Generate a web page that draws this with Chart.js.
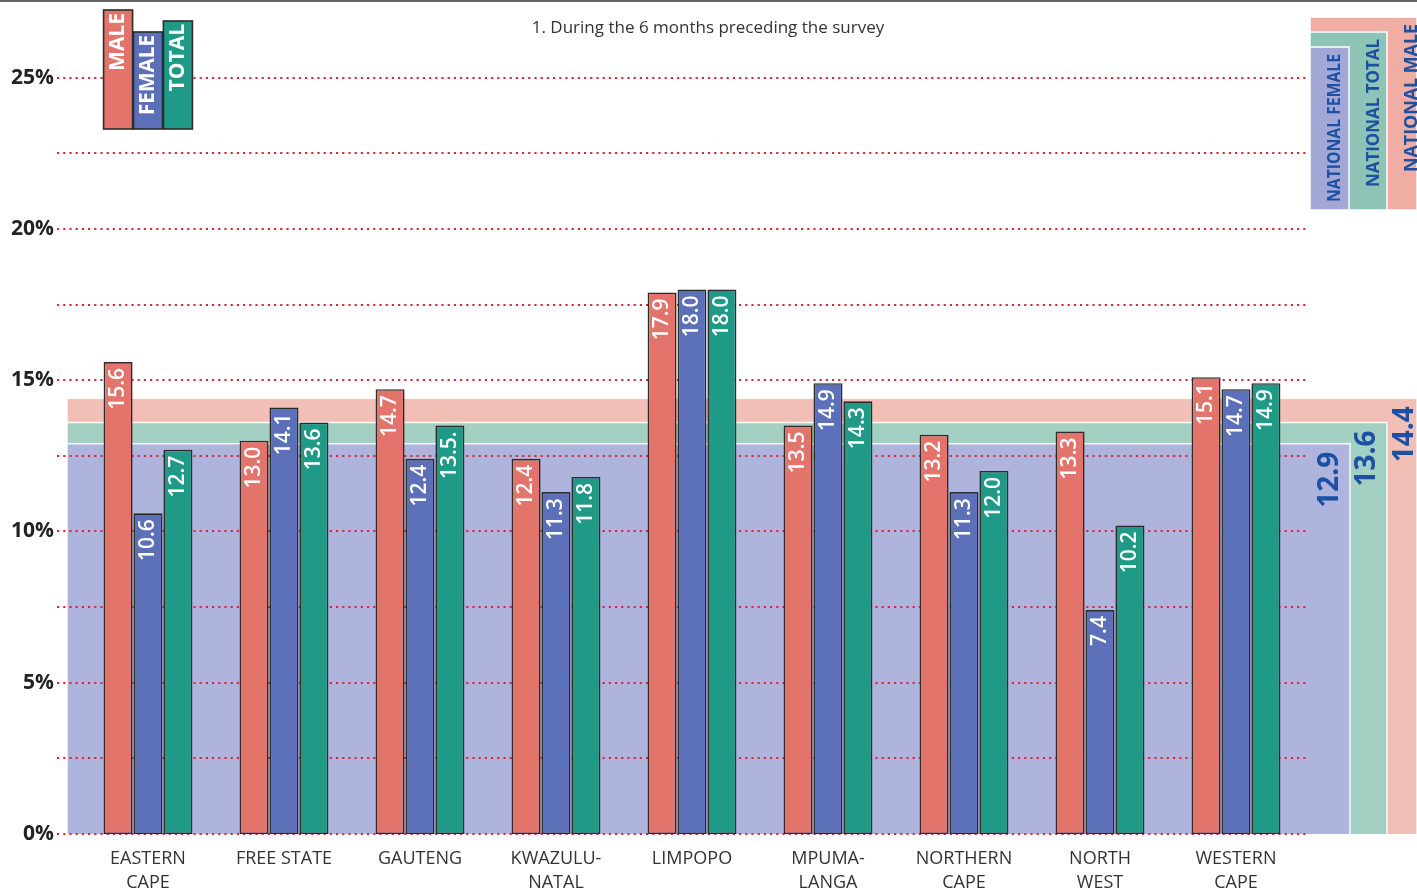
<!DOCTYPE html>
<html>
<head>
<meta charset="utf-8">
<style>
  html, body { margin: 0; padding: 0; background: #fff; }
  #wrap { width: 1417px; height: 890px; position: relative; }
</style>
<script src="https://cdn.jsdelivr.net/npm/chart.js@4.4.1/dist/chart.umd.min.js"></script>
</head>
<body>
<div id="wrap"><canvas id="chart"></canvas></div>
<script>
'use strict';

/* ── Data ─────────────────────────────────────────────────────── */
const PROVINCES = [
  ['EASTERN', 'CAPE'], ['FREE STATE'], ['GAUTENG'], ['KWAZULU-', 'NATAL'], ['LIMPOPO'],
  ['MPUMA-', 'LANGA'], ['NORTHERN', 'CAPE'], ['NORTH', 'WEST'], ['WESTERN', 'CAPE'],
];
const SERIES = ['MALE', 'FEMALE', 'TOTAL'];
const MALE   = [15.6, 13.0, 14.7, 12.4, 17.9, 13.5, 13.2, 13.3, 15.1];
const FEMALE = [10.6, 14.1, 12.4, 11.3, 18.0, 14.9, 11.3, 7.4, 14.7];
const TOTAL  = [12.7, 13.6, 13.5, 11.8, 18.0, 14.3, 12.0, 10.2, 14.9];
const TOTAL_TEXT = ['12.7', '13.6', '13.5.', '11.8', '18.0', '14.3', '12.0', '10.2', '14.9'];

const NATIONAL_LABELS = ['NATIONAL MALE', 'NATIONAL TOTAL', 'NATIONAL FEMALE'];
const NATIONAL = [14.4, 13.6, 12.9];

const Y_TICKS = [0, 5, 10, 15, 20, 25];
const Y_GRID = [0, 2.5, 5, 7.5, 10, 12.5, 15, 17.5, 20, 22.5, 25];
const NOTE = '1. During the 6 months preceding the survey';

/* ── Styling ──────────────────────────────────────────────────── */
const C = {
  male: '#E2746C', female: '#5B70B9', total: '#1E9A86',
  bandMale: '#F2BFB7', bandTotal: '#A4CFC3', bandFemale: '#AEB4DB',
  keyMale: '#EFADA3', keyTotal: '#8DC4B5', keyFemale: '#A3A7D6',
  blue: '#1B50A3', grid: '#D9283C', border: '#2b2b2b', ink: '#222',
};
const FONT = "'Open Sans', 'Noto Sans', sans-serif";

// geometry of the national bands (right edges) and their number labels
const BAND_LEFT = 67;
const BAND_RIGHT = [1417, 1387, 1350];
const BAND_TEXT_X = [1405, 1367, 1330];

function vtext(ctx, txt, x, yTop, font, color, maxW) {
  ctx.save();
  ctx.translate(x, yTop);
  ctx.rotate(-Math.PI / 2);
  ctx.font = font;
  ctx.fillStyle = color;
  ctx.textAlign = 'right';
  ctx.textBaseline = 'middle';
  if (maxW) ctx.fillText(txt, 0, 0, maxW); else ctx.fillText(txt, 0, 0);
  ctx.restore();
}

const decor = {
  id: 'decor',
  beforeDatasetsDraw(chart) {
    const { ctx } = chart;
    const y = chart.scales.y;
    const base = y.getPixelForValue(0);
    ctx.save();
    // national bands, widest first
    const fills = [C.bandMale, C.bandTotal, C.bandFemale];
    NATIONAL.forEach((v, i) => {
      const top = y.getPixelForValue(v);
      ctx.fillStyle = fills[i];
      ctx.fillRect(BAND_LEFT, top, BAND_RIGHT[i] - BAND_LEFT, base - top);
      ctx.strokeStyle = 'rgba(255,255,255,0.9)';
      ctx.lineWidth = 1.5;
      ctx.strokeRect(BAND_LEFT, top, BAND_RIGHT[i] - BAND_LEFT, base - top + 3);
    });
    // dotted grid
    ctx.strokeStyle = C.grid;
    ctx.lineWidth = 2.2;
    ctx.setLineDash([2.2, 4]);
    Y_GRID.forEach(v => {
      const py = Math.round(y.getPixelForValue(v));
      ctx.beginPath();
      ctx.moveTo(57, py);
      ctx.lineTo(1307, py);
      ctx.stroke();
    });
    ctx.setLineDash([]);
    // y tick labels
    ctx.font = `bold 21px ${FONT}`;
    ctx.fillStyle = C.ink;
    ctx.textAlign = 'right';
    ctx.textBaseline = 'middle';
    Y_TICKS.forEach(v => ctx.fillText(v + '%', 54, y.getPixelForValue(v)));
    // national numbers
    NATIONAL.forEach((v, i) => {
      vtext(ctx, v.toFixed(1), BAND_TEXT_X[i], y.getPixelForValue(v) + 8, `bold 28px ${FONT}`, C.blue);
    });
    ctx.restore();
  },
  afterDatasetsDraw(chart) {
    const { ctx } = chart;
    const x = chart.scales.x;
    ctx.save();
    // value labels inside bars
    const texts = [MALE.map(v => v.toFixed(1)), FEMALE.map(v => v.toFixed(1)), TOTAL_TEXT];
    chart.data.datasets.forEach((ds, di) => {
      chart.getDatasetMeta(di).data.forEach((bar, i) => {
        vtext(ctx, texts[di][i], bar.x, bar.y + 6, `600 21px ${FONT}`, '#fff');
      });
    });
    // category labels
    ctx.font = `18px ${FONT}`;
    ctx.fillStyle = '#333';
    ctx.textAlign = 'center';
    ctx.textBaseline = 'middle';
    PROVINCES.forEach((lines, i) => {
      const px = x.getPixelForValue(i);
      lines.forEach((l, k) => ctx.fillText(l, px, 859 + k * 24));
    });
    // series key (top left), aligned with first group's bars
    const keyTops = [10, 32, 21];
    const keyFill = [C.male, C.female, C.total];
    chart.data.datasets.forEach((ds, di) => {
      const bar = chart.getDatasetMeta(di).data[0];
      const w = bar.width;
      ctx.fillStyle = keyFill[di];
      ctx.fillRect(bar.x - w / 2, keyTops[di], w, 129 - keyTops[di]);
      ctx.strokeStyle = C.border;
      ctx.lineWidth = 1.6;
      ctx.strokeRect(bar.x - w / 2, keyTops[di], w, 129 - keyTops[di]);
      vtext(ctx, SERIES[di], bar.x, keyTops[di] + 3, `bold 21px ${FONT}`, '#fff', 80);
    });
    // national key (top right)
    const nk = [[C.keyMale, 17, 1417, 1412], [C.keyTotal, 32, 1387, 1374], [C.keyFemale, 47, 1349, 1335]];
    nk.forEach(([fill, top, right]) => {
      ctx.fillStyle = fill;
      ctx.fillRect(1310, top, right - 1310, 210 - top);
      ctx.strokeStyle = '#fff';
      ctx.lineWidth = 1.5;
      ctx.strokeRect(1310, top, right - 1310, 210 - top);
    });
    nk.forEach(([fill, top, right, tx], i) => {
      vtext(ctx, NATIONAL_LABELS[i], tx, top + 7, `bold 18px ${FONT}`, C.blue, 148);
    });
    // note + top rule
    ctx.fillStyle = '#333';
    ctx.font = `17px ${FONT}`;
    ctx.textAlign = 'center';
    ctx.fillText(NOTE, 708, 28);
    ctx.fillStyle = '#666';
    ctx.fillRect(0, 0, 1417, 2);
    ctx.restore();
  },
};

const barStyle = color => ({
  backgroundColor: color,
  borderColor: C.border,
  borderWidth: 1.6,
  borderSkipped: false,
  categoryPercentage: 0.66,
  barPercentage: 0.97,
});

new Chart(document.getElementById('chart'), {
  type: 'bar',
  data: {
    labels: PROVINCES,
    datasets: [
      { label: SERIES[0], data: MALE, ...barStyle(C.male) },
      { label: SERIES[1], data: FEMALE, ...barStyle(C.female) },
      { label: SERIES[2], data: TOTAL, ...barStyle(C.total) },
    ],
  },
  options: {
    responsive: true,
    maintainAspectRatio: false,
    animation: false,
    layout: { padding: { left: 80, right: 113, top: 2, bottom: 56 } },
    plugins: { legend: { display: false }, tooltip: { enabled: false } },
    scales: {
      x: { display: false },
      y: { display: false, min: 0, max: 27.5 },
    },
  },
  plugins: [decor],
});
</script>
</body>
</html>
